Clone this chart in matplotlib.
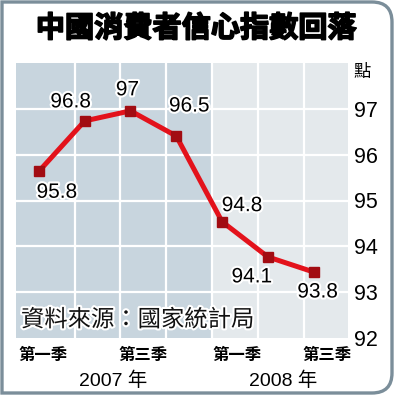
import matplotlib
matplotlib.use("Agg")
import matplotlib.pyplot as plt
import matplotlib.patheffects as pe
from matplotlib.path import Path
from matplotlib.patches import PathPatch

# ---- data ----
values = [95.8, 96.8, 97.0, 96.5, 94.8, 94.1, 93.8]
value_labels = ["95.8", "96.8", "97", "96.5", "94.8", "94.1", "93.8"]
quarter_labels = ["第一季", "第三季", "第一季", "第三季"]
year_labels = ["2007 年", "2008 年"]
y_ticks = [92, 93, 94, 95, 96, 97]
title = "中國消費者信心指數回落"
unit = "點"
source = "資料來源：國家統計局"

W, H = 395, 397
fig = plt.figure(figsize=(W / 100, H / 100), dpi=100)
fig.patch.set_facecolor("white")

def fx(x):
    return x / W

def fy(y):
    return 1 - y / H

CJK = ["Noto Sans CJK TC", "DejaVu Sans"]
NUM = ["Liberation Sans", "Noto Sans CJK TC", "DejaVu Sans"]

# ---- plot area ----
L, R, T, B = 16, 348, 63, 338
ax = fig.add_axes([fx(L), fy(B), (R - L) / W, (B - T) / H])
xlim = (-0.5, 6.75)
ax.set_xlim(*xlim)
ax.set_ylim(92, 98)
ax.set_facecolor("#e4e9ec")
ax.axvspan(xlim[0], 3.78, color="#c8d5de", lw=0, zorder=0)
for gx in [0.78, 1.78, 2.78, 3.78, 4.78, 5.78]:
    ax.axvline(gx, color="white", lw=1.6, zorder=1)
for gy in [93, 94, 95, 96, 97]:
    ax.axhline(gy, color="white", lw=1.6, zorder=1)
for s in ax.spines.values():
    s.set_visible(False)
ax.set_xticks([])

# data axis (points drawn on the picture's own scale)
ax2 = ax.twinx()
ax2.set_ylim(92.49, 97.95)
ax2.set_xlim(*xlim)
ax2.axis("off")

ax.yaxis.tick_right()
ax.yaxis.set_label_position("right")
ax.set_yticks(y_ticks)
ax.set_yticklabels([str(t) for t in y_ticks], fontsize=15.5, family=NUM)
ax.tick_params(axis="y", which="both", left=False, right=False,
               labelleft=False, labelright=True, length=0, pad=4.5)

xs = list(range(len(values)))
ax2.plot(xs, values, color="#e3121b", lw=3.6, zorder=3, solid_capstyle="butt")
ax2.plot(xs, values, ls="none", marker="s", ms=7.5, color="#a20c12",
         mec="#a20c12", zorder=4)

offsets = [(18, -21), (-14, 19), (-3, 21), (13, 30), (20, 16), (-16, -20), (4, -20)]
for x, v, lab, (dx, dy) in zip(xs, values, value_labels, offsets):
    ax2.annotate(lab, (x, v), xytext=(dx, dy), textcoords="offset pixels",
                 ha="center", va="center", fontsize=15, family=NUM,
                 color="black", zorder=5,
                 path_effects=[pe.withStroke(linewidth=3, foreground="white")])

# source text
fig.text(fx(21), fy(320), source, fontsize=16.8, family=CJK, ha="left",
         va="center", color="#111111",
         path_effects=[pe.withStroke(linewidth=3, foreground="white")])

# quarter / year labels
for cx, q in zip([43, 143, 237, 327], quarter_labels):
    fig.text(fx(cx), fy(355), q, fontsize=11.8, family=CJK, ha="center",
             va="center", weight="bold")
for cx, yl in zip([113, 283], year_labels):
    fig.text(fx(cx), fy(381), yl, fontsize=14, family=NUM, ha="center",
             va="center")

# title and unit
fig.text(fx(196), fy(28), title, fontsize=21, family=CJK, weight="heavy",
         ha="center", va="center",
         path_effects=[pe.withStroke(linewidth=1.2, foreground="black")])
fig.text(fx(362), fy(72), unit, fontsize=12.5, family=CJK, ha="center",
         va="center")

# frame with rounded right corners
r = 20
x0, x1, y0, y1 = 2, 392, 2, 393
pts = [(x0, y0), (x1 - r, y0), (x1, y0), (x1, y0 + r), (x1, y1 - r),
       (x1, y1), (x1 - r, y1), (x0, y1), (x0, y0)]
codes = [Path.MOVETO, Path.LINETO, Path.CURVE3, Path.CURVE3, Path.LINETO,
         Path.CURVE3, Path.CURVE3, Path.LINETO, Path.CLOSEPOLY]
path = Path([(fx(a), fy(b)) for a, b in pts], codes)
fig.patches.append(PathPatch(path, transform=fig.transFigure, fill=False,
                             ec="#7b8e9a", lw=2.4))

fig.savefig("out.png", dpi=100)
